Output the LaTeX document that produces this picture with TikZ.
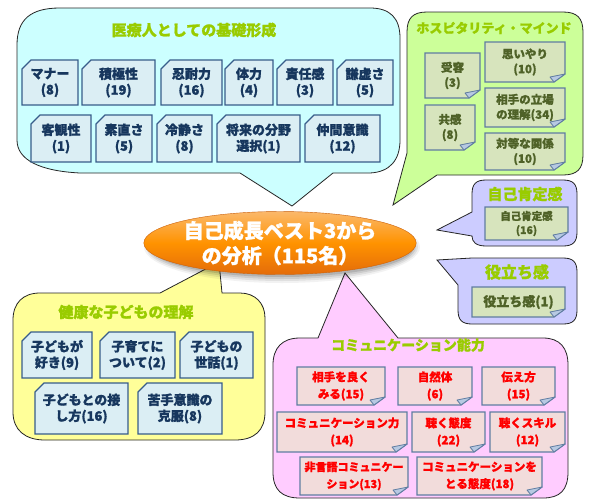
\documentclass[tikz,border=0pt]{standalone}
\usepackage{fontspec}
\setmainfont{Noto Sans CJK JP}[BoldFeatures={FakeBold=1.2}]
\usetikzlibrary{shapes.geometric}
\definecolor{cyanbg}{HTML}{CCFFFF}
\definecolor{greenbg}{HTML}{CCFF99}
\definecolor{lavbg}{HTML}{CCCCFF}
\definecolor{yellowbg}{HTML}{FFFF99}
\definecolor{pinkbg}{HTML}{FFCCFF}
\definecolor{lime}{HTML}{99CC00}
\definecolor{boxblue}{HTML}{DBEEF4}
\definecolor{boxborder}{HTML}{385D8A}
\definecolor{navytext}{HTML}{17375E}
\definecolor{olivebox}{HTML}{D7E4BD}
\definecolor{olivetext}{HTML}{4F6228}
\definecolor{pinkbox}{HTML}{F2DCDB}
\definecolor{foldcol}{HTML}{B7C9E2}
\definecolor{orTop}{HTML}{FBB86A}
\definecolor{orBot}{HTML}{E46C0A}
\newcommand\snipbox[6]{%
  \draw[snipshape] ({#2+9},#3) -- (#4,#3) -- (#4,#5) -- (#2,#5) -- (#2,{#3+9}) -- cycle;
  \node[sniptext] (#1) at ({(#2+#4)/2},{(#3+#5)/2}) {#6};}
\newcommand\foldbox[8]{%
  \draw[#6] (#2,#3) -- (#4,#3) -- (#4,{#5-8}) -- ({#4-11},#5) -- (#2,#5) -- cycle;
  \draw[foldshape] (#4,{#5-8}) -- ({#4-15},{#5-5}) -- ({#4-11},#5) -- cycle;
  \node[#7] (#1) at ({(#2+#4)/2},{(#3+#5)/2}) {#8};}
\tikzset{
  callout/.style={draw=black!85, line width=0.8pt},
  header/.style={text=lime, font=\bfseries\fontsize{15}{17}\selectfont, inner sep=0},
  snipshape/.style={fill=boxblue, draw=boxborder, line width=1.2pt},
  sniptext/.style={text=navytext, align=center, inner sep=0, font=\bfseries\fontsize{13}{16}\selectfont},
  greenshape/.style={fill=olivebox, draw=boxborder!80!white, line width=1.2pt},
  pinkshape/.style={fill=pinkbox, draw=boxborder!80!white, line width=1.2pt},
  foldshape/.style={fill=foldcol, draw=boxborder!80!white, line width=0.8pt, line join=round},
  olivet/.style={text=olivetext, align=center, inner sep=0, font=\bfseries\fontsize{11.5}{15}\selectfont},
  redt/.style={text=red, align=center, inner sep=0, font=\bfseries\fontsize{11.5}{17}\selectfont},
}
\begin{document}
\begin{tikzpicture}[x=1pt,y=-1pt]
\useasboundingbox (0,0) rectangle (589,501);
\fill[white] (0,0) rectangle (589,501);
% cyan callout
\draw[callout, fill=cyanbg] (17,45) .. controls (17,20) and (30,8) .. (60,8)
  -- (370,8) .. controls (390,8) and (400,18) .. (400,38)
  -- (400,140) .. controls (400,160) and (390,172) .. (370,173)
  -- (333,173) -- (292,206) -- (240,173)
  -- (80,173) .. controls (40,171) and (17,160) .. (17,140) -- cycle;
% green callout
\draw[callout, fill=greenbg] (407,32) .. controls (407,18) and (413,12) .. (427,12)
  -- (563,12) .. controls (577,12) and (583,18) .. (583,32)
  -- (583,155) .. controls (583,169) and (577,175) .. (563,175)
  -- (437,175) -- (393,205) -- (407,153) -- cycle;
% lavender callouts
\draw[callout, fill=lavbg] (472,194) .. controls (472,184) and (476,180) .. (486,180)
  -- (563,180) .. controls (573,180) and (577,184) .. (577,194)
  -- (577,232) .. controls (577,242) and (573,246) .. (563,246)
  -- (486,246) .. controls (476,246) and (472,242) .. (472,236)
  -- (437,230) -- (472,212) -- cycle;
\draw[callout, fill=lavbg] (458,285) -- (437,260) -- (472,258)
  -- (563,258) .. controls (573,258) and (577,262) .. (577,272)
  -- (577,310) .. controls (577,320) and (573,324) .. (563,324)
  -- (472,324) .. controls (462,324) and (458,320) .. (458,310) -- cycle;
% yellow callout
\draw[callout, fill=yellowbg] (13,320) .. controls (13,303) and (23,293) .. (40,293)
  -- (160,293) -- (219,262) -- (222,293)
  -- (240,293) .. controls (255,293) and (265,303) .. (265,318)
  -- (265,412) .. controls (265,430) and (255,440) .. (235,440)
  -- (45,440) .. controls (25,440) and (13,430) .. (13,412) -- cycle;
% pink callout
\draw[callout, fill=pinkbg] (273,365) .. controls (273,348) and (282,338) .. (300,338)
  -- (318,338) -- (345,273) -- (398,338)
  -- (543,338) .. controls (560,338) and (568,348) .. (568,365)
  -- (568,472) .. controls (568,490) and (560,498) .. (543,498)
  -- (300,498) .. controls (282,498) and (273,490) .. (273,472) -- cycle;
% central ellipse with soft shadow
\foreach \r/\o in {8/0.05,6/0.07,4/0.09,2/0.12}{
  \fill[black, opacity=\o] (282,247) ellipse [x radius={130+\r}, y radius={28+\r}];}
\node[ellipse, minimum width=260pt, minimum height=56pt, inner sep=0,
  top color=orTop, bottom color=orBot, middle color=orange!85!yellow, draw=orBot!90!black, line width=0.4pt,
  text=white, align=center, font=\bfseries\fontsize{20}{25}\selectfont] (center) at (280,243)
  {自己成長ベスト3から\\の分析（115名）};
% headers
\node[header] (h1) at (194,30) {医療人としての基礎形成};
\node[header, font=\bfseries\fontsize{13}{15}\selectfont] (h2) at (494,28) {ホスピタリティ・マインド};
\node[header] (h3) at (525,194) {自己肯定感};
\node[header, font=\bfseries\fontsize{16}{18}\selectfont] (h4) at (517,272) {役立ち感};
\node[header] (h5) at (126,312) {健康な子どもの理解};
\node[header, font=\bfseries\fontsize{14}{16}\selectfont] (h6) at (408,345) {コミュニケーション能力};
% cyan boxes
\snipbox{b1}{22}{60}{78}{105}{マナー\\(8)}
\snipbox{b2}{82}{60}{155}{105}{積極性\\(19)}
\snipbox{b3}{161}{60}{222}{105}{忍耐力\\(16)}
\snipbox{b4}{225}{60}{273}{105}{体力\\(4)}
\snipbox{b5}{277}{60}{333}{105}{責任感\\(3)}
\snipbox{b6}{337}{60}{393}{105}{謙虚さ\\(5)}
\snipbox{b7}{31}{115}{91}{162}{客観性\\(1)}
\snipbox{b8}{96}{115}{152}{162}{素直さ\\(5)}
\snipbox{b9}{157}{115}{212}{162}{冷静さ\\(8)}
\snipbox{b10}{217}{115}{300}{162}{将来の分野\\選択(1)}
\snipbox{b11}{305}{115}{380}{162}{仲間意識\\(12)}
% green boxes
\foldbox{g1}{425}{53}{480}{98}{greenshape}{olivet}{受容\\(3)}
\foldbox{g2}{485}{42}{565}{82}{greenshape}{olivet}{思いやり\\(10)}
\foldbox{g3}{485}{88}{565}{127}{greenshape}{olivet}{相手の立場\\の理解(34)}
\foldbox{g4}{425}{105}{475}{150}{greenshape}{olivet}{共感\\(8)}
\foldbox{g5}{485}{133}{565}{170}{greenshape}{olivet}{対等な関係\\(10)}
% lavender boxes
\foldbox{l1}{485}{207}{568}{240}{greenshape}{olivet, font=\bfseries\fontsize{10.5}{14}\selectfont}{自己肯定感\\(16)}
\foldbox{l2}{472}{287}{565}{317}{greenshape}{olivet, font=\bfseries\fontsize{13}{15}\selectfont}{役立ち感(1)}
% yellow callout boxes
\snipbox{y1}{22}{332}{92}{378}{子どもが\\好き(9)}
\snipbox{y2}{100}{332}{175}{378}{子育てに\\ついて(2)}
\snipbox{y3}{180}{332}{253}{378}{子どもの\\世話(1)}
\snipbox{y4}{35}{383}{128}{434}{子どもとの接\\し方(16)}
\snipbox{y5}{138}{383}{222}{434}{苦手意識の\\克服(8)}
% pink boxes
\foldbox{p1}{297}{367}{385}{405}{pinkshape}{redt}{相手を良く\\みる(15)}
\foldbox{p2}{398}{367}{472}{405}{pinkshape}{redt}{自然体\\(6)}
\foldbox{p3}{482}{367}{555}{405}{pinkshape}{redt}{伝え方\\(15)}
\foldbox{p4}{277}{412}{407}{452}{pinkshape}{redt}{コミュニケーション力\\(14)}
\foldbox{p5}{412}{412}{485}{452}{pinkshape}{redt}{聴く態度\\(22)}
\foldbox{p6}{490}{412}{565}{452}{pinkshape}{redt}{聴くスキル\\(12)}
\foldbox{p7}{300}{457}{408}{495}{pinkshape}{redt, font=\bfseries\fontsize{11}{17}\selectfont}{非言語コミュニケー\\ション(13)}
\foldbox{p8}{417}{457}{542}{495}{pinkshape}{redt}{コミュニケーションを\\とる態度(18)}
\end{tikzpicture}
\end{document}
